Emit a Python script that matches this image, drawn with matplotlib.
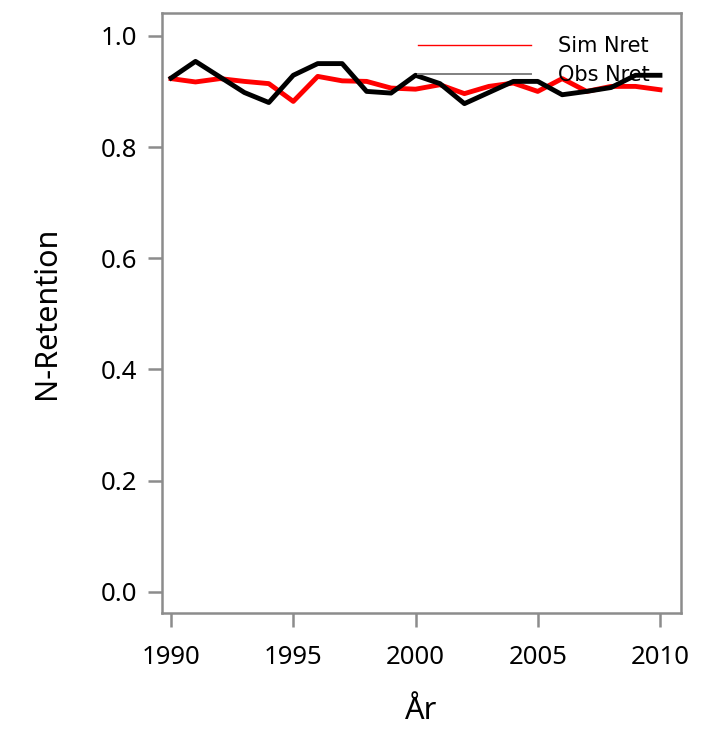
import numpy as np
import matplotlib.pyplot as plt
from matplotlib.lines import Line2D

years = np.arange(1990, 2011)
simNret = [0.923, 0.917, 0.923, 0.918, 0.914, 0.882, 0.927, 0.919, 0.918, 0.906, 0.904,
           0.912, 0.896, 0.909, 0.915, 0.900, 0.923, 0.900, 0.909, 0.909, 0.903]
obsNret = [0.924, 0.954, 0.926, 0.898, 0.880, 0.929, 0.950, 0.950, 0.900, 0.897, 0.929,
           0.914, 0.878, 0.898, 0.918, 0.918, 0.894, 0.900, 0.907, 0.929, 0.929]
xTicks = [1990, 1995, 2000, 2005, 2010]
yTicks = [0.0, 0.2, 0.4, 0.6, 0.8, 1.0]

def main():
    fig = plt.figure(figsize=(7.26, 7.31), dpi=100)
    ax = fig.add_axes([162 / 726, 1 - 613 / 731, (681 - 162) / 726, (613 - 13) / 731])

    ax.plot(years, simNret, color="red", linewidth=3.5)
    ax.plot(years, obsNret, color="black", linewidth=3.5)

    ax.set_xlim(1989.63, 2010.86)
    ax.set_ylim(-0.038, 1.041)
    ax.set_xticks(xTicks)
    ax.set_yticks(yTicks)
    ax.set_yticklabels(["%.1f" % v for v in yTicks])

    grey = "#8c8c8c"
    for s in ax.spines.values():
        s.set_color(grey)
        s.set_linewidth(1.8)
    ax.tick_params(colors=grey, labelcolor="black", width=1.8, labelsize=18.5)
    ax.tick_params(axis="y", length=10, pad=8)
    ax.tick_params(axis="x", length=10, pad=13)
    for lab in ax.get_xticklabels() + ax.get_yticklabels():
        lab.set_family("Noto Sans")

    ax.set_xlabel("År", family="Noto Sans", fontsize=22, labelpad=19)
    ax.set_ylabel("N-Retention", family="Noto Sans", fontsize=22, labelpad=28)

    handles = [Line2D([], [], color="red", linewidth=1),
               Line2D([], [], color="#808080", linewidth=1.4)]
    ax.legend(handles, ["Sim Nret", "Obs Nret"], frameon=False, fontsize=15,
              loc="upper left", bbox_to_anchor=(418 / 726, 1 - 36 / 731),
              bbox_transform=fig.transFigure, borderpad=0, borderaxespad=0,
              handlelength=5.4, handletextpad=1.3, labelspacing=0.45)

    fig.savefig("out.png", dpi=100)

if __name__ == "__main__":
    main()
